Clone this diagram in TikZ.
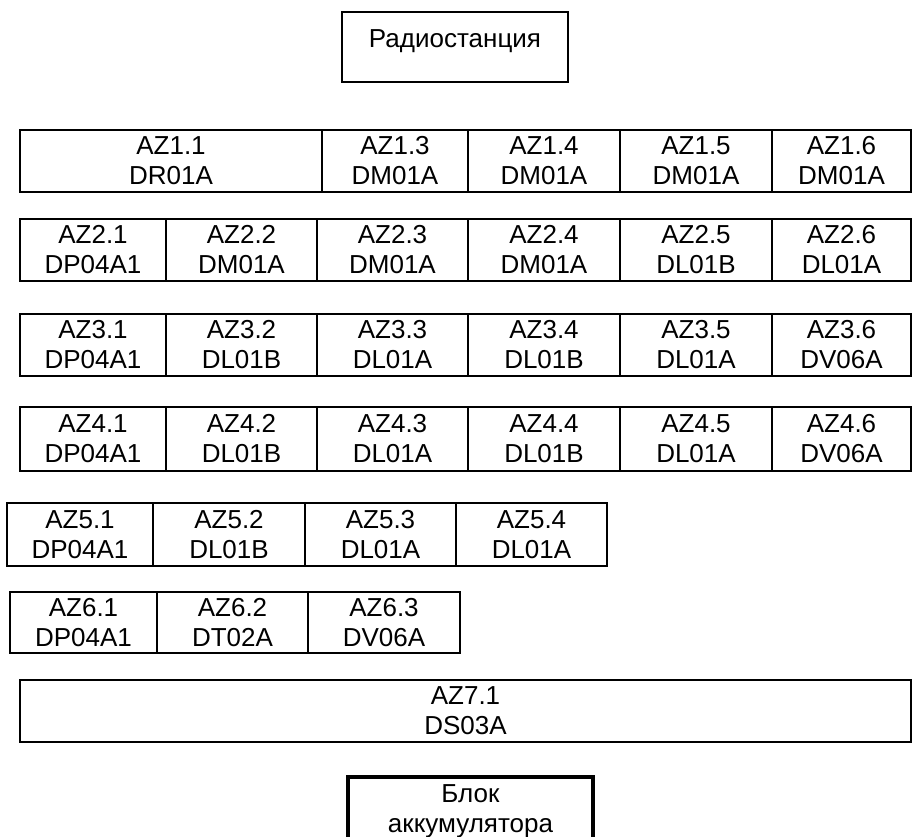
\documentclass[tikz,border=0pt]{standalone}
\usepackage{fontspec}
\setmainfont{Liberation Sans}
% one module cell: name, left, right, top, bottom, two-line label
\newcommand\azcell[6]{%
  \node[cell, minimum width={#3-#2}, minimum height={#5-#4}] (#1)
    at ({(#2+#3)/2},{(#4+#5)/2}) {#6};}
\begin{document}
\begin{tikzpicture}[x=1pt,y=-1pt,
  txt/.style={font=\fontsize{26}{30}\selectfont, align=center},
  cell/.style={txt, draw, line width=2pt, inner sep=0pt},
  unitbox/.style={draw, line width=2pt, inner sep=0pt},
  battbox/.style={draw, line width=4pt, inner sep=0pt}]
\useasboundingbox (0,0) rectangle (913,836);

% radio station
\node[unitbox, txt, minimum width=226, minimum height=70, text depth=17pt] (radio)
  at (455,47) {Радиостанция};

% row 1
\azcell{az11}{20}{322}{130}{192}{AZ1.1\\DR01A}
\azcell{az13}{322}{468}{130}{192}{AZ1.3\\DM01A}
\azcell{az14}{468}{620}{130}{192}{AZ1.4\\DM01A}
\azcell{az15}{620}{772}{130}{192}{AZ1.5\\DM01A}
\azcell{az16}{772}{911}{130}{192}{AZ1.6\\DM01A}

% row 2
\azcell{az21}{20}{166}{219}{281}{AZ2.1\\DP04A1}
\azcell{az22}{166}{317}{219}{281}{AZ2.2\\DM01A}
\azcell{az23}{317}{468}{219}{281}{AZ2.3\\DM01A}
\azcell{az24}{468}{620}{219}{281}{AZ2.4\\DM01A}
\azcell{az25}{620}{772}{219}{281}{AZ2.5\\DL01B}
\azcell{az26}{772}{911}{219}{281}{AZ2.6\\DL01A}

% row 3
\azcell{az31}{20}{166}{314}{376}{AZ3.1\\DP04A1}
\azcell{az32}{166}{317}{314}{376}{AZ3.2\\DL01B}
\azcell{az33}{317}{468}{314}{376}{AZ3.3\\DL01A}
\azcell{az34}{468}{620}{314}{376}{AZ3.4\\DL01B}
\azcell{az35}{620}{772}{314}{376}{AZ3.5\\DL01A}
\azcell{az36}{772}{911}{314}{376}{AZ3.6\\DV06A}

% row 4
\azcell{az41}{20}{166}{407}{471}{AZ4.1\\DP04A1}
\azcell{az42}{166}{317}{407}{471}{AZ4.2\\DL01B}
\azcell{az43}{317}{468}{407}{471}{AZ4.3\\DL01A}
\azcell{az44}{468}{620}{407}{471}{AZ4.4\\DL01B}
\azcell{az45}{620}{772}{407}{471}{AZ4.5\\DL01A}
\azcell{az46}{772}{911}{407}{471}{AZ4.6\\DV06A}

% row 5
\azcell{az51}{7}{153}{503}{566}{AZ5.1\\DP04A1}
\azcell{az52}{153}{305}{503}{566}{AZ5.2\\DL01B}
\azcell{az53}{305}{456}{503}{566}{AZ5.3\\DL01A}
\azcell{az54}{456}{607}{503}{566}{AZ5.4\\DL01A}

% row 6
\azcell{az61}{10}{157}{592}{653}{AZ6.1\\DP04A1}
\azcell{az62}{157}{308}{592}{653}{AZ6.2\\DT02A}
\azcell{az63}{308}{460}{592}{653}{AZ6.3\\DV06A}

% row 7
\azcell{az71}{20}{911}{680}{742}{AZ7.1\\DS03A}

% battery unit
\node[battbox, minimum width=245, minimum height=120, anchor=north] (battery)
  at (470.5,775) {};
\node[txt, inner sep=0pt, anchor=north] (batterylabel)
  at (470.5,784.5) {Блок\\аккумулятора};
\end{tikzpicture}
\end{document}
